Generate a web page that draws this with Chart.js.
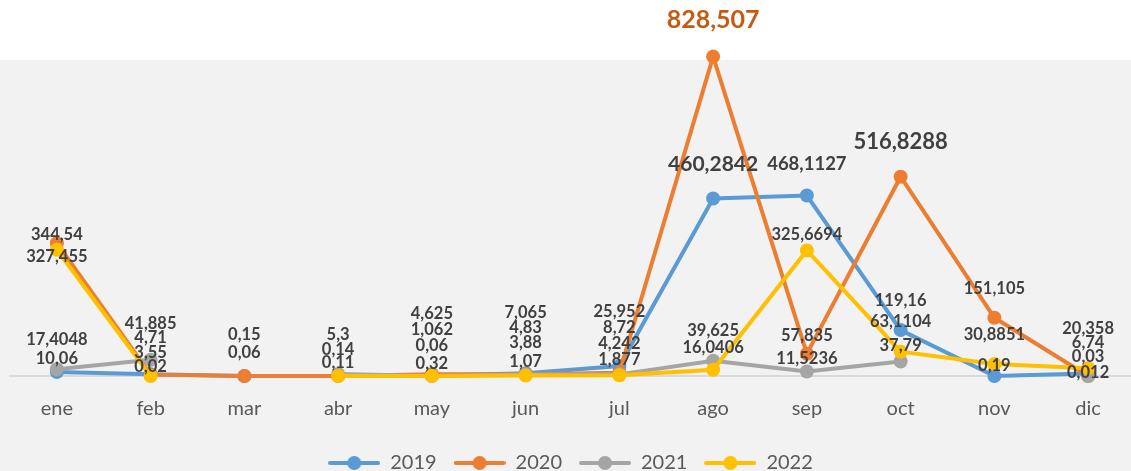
<!DOCTYPE html>
<html>
<head>
<meta charset="utf-8">
<script src="https://cdn.jsdelivr.net/npm/chart.js@4"></script>
<style>
  html, body { margin: 0; padding: 0; background: #fff; overflow: hidden; }
  #clip { width: 1131px; height: 471px; overflow: hidden; position: relative; }
  #wrap { width: 1142px; height: 483px; position: absolute; left: 0; top: 0; }
</style>
</head>
<body>
<div id="clip"><div id="wrap"><canvas id="c"></canvas></div></div>
<script>
const months = ['ene', 'feb', 'mar', 'abr', 'may', 'jun', 'jul', 'ago', 'sep', 'oct', 'nov', 'dic'];

const v2019 = [10.06, 4.71, 0.06, null, 1.062, 7.065, 25.952, 460.2842, 468.1127, 119.16, 0.19, 6.74];
const v2020 = [344.54, 3.55, 0.15, 0.14, 4.625, 4.83, 8.72, 828.507, 57.835, 516.8288, 151.105, 0.03];
const v2021 = [17.4048, 41.885, null, 5.3, 0.06, 3.88, 4.242, 39.625, 11.5236, 37.79, null, 0.012];
const v2022 = [327.455, 0.02, null, 0.11, 0.32, 1.07, 1.877, 16.0406, 325.6694, 63.1104, 30.8851, 20.358];

// label shift above each point (px), as placed in the original
const dy2019 = [-12, -36, -22, 0, -45, -60, -53, -33, -30, -28.5, -9.4, -29.4];
const dy2020 = [-7, -21, -40, -25.5, -60, -45.6, -43.6, -36, -17, -34, -28, -18.5];
const dy2021 = [-29, -35, 0, -38, -29, -30.5, -29.4, -29, -12, -15, 0, -2.5];
const dy2022 = [8, -8, 0, -12, -11, -12.6, -14.3, -21, -15, -28.6, -28.6, -38];

// a few labels are bigger
const bigLabels = {
  '0-7': { size: 21 }, '0-8': { size: 18.5 },
  '1-7': { size: 25, color: '#c55a11' }, '1-9': { size: 22 }
};

const FONT = 'Lato';

function legendIcon(color) {
  const c = document.createElement('canvas');
  c.width = 52; c.height = 16;
  const g = c.getContext('2d');
  g.strokeStyle = color; g.lineWidth = 4; g.lineCap = 'round';
  g.beginPath(); g.moveTo(2, 8); g.lineTo(50, 8); g.stroke();
  g.fillStyle = color;
  g.beginPath(); g.arc(26, 8, 7, 0, Math.PI * 2); g.fill();
  return c;
}

function serie(label, data, color, order) {
  return {
    label, data, order,
    borderColor: color, backgroundColor: color,
    pointBackgroundColor: color, pointBorderColor: color,
    borderWidth: 4, pointRadius: 7, pointBorderWidth: 0,
    tension: 0, spanGaps: false, clip: false
  };
}

const labelDy = [dy2019, dy2020, dy2021, dy2022];

const bgPlugin = {
  id: 'bg',
  afterLayout(chart) {
    // canvas is a bit wider than the page; keep legend centred on the page
    chart.legend.left -= 5.5;
    chart.legend.right -= 5.5;
  },
  beforeDraw(chart) {
    const ctx = chart.ctx;
    ctx.save();
    ctx.fillStyle = '#f2f2f2';
    ctx.fillRect(0, 60, chart.width, chart.height - 60);
    ctx.restore();
  }
};

const labelPlugin = {
  id: 'valueLabels',
  afterDatasetsDraw(chart) {
    const ctx = chart.ctx;
    ctx.save();
    ctx.textAlign = 'center';
    ctx.textBaseline = 'middle';
    chart.data.datasets.forEach((ds, di) => {
      const meta = chart.getDatasetMeta(di);
      ds.data.forEach((v, i) => {
        if (v === null) return;
        const pt = meta.data[i];
        const o = bigLabels[di + '-' + i] || {};
        ctx.font = 'bold ' + (o.size || 16.5) + 'px ' + FONT;
        ctx.fillStyle = o.color || '#404040';
        ctx.fillText(String(v).replace('.', ','), pt.x, pt.y + labelDy[di][i] - 1);
      });
    });
    ctx.restore();
  }
};

new Chart(document.getElementById('c'), {
  type: 'line',
  data: {
    labels: months,
    datasets: [
      serie('2019', v2019, '#5b9bd5', 4),
      serie('2020', v2020, '#ed7d31', 3),
      serie('2021', v2021, '#a5a5a5', 2),
      serie('2022', v2022, '#ffc000', 1)
    ]
  },
  options: {
    responsive: true,
    maintainAspectRatio: false,
    animation: false,
    layout: { padding: { top: 56, left: 10, right: 0, bottom: 0 } },
    scales: {
      x: {
        offset: true,
        grid: { display: false },
        border: { color: '#d9d9d9', width: 2 },
        ticks: { color: '#595959', font: { family: FONT, size: 20 }, padding: 13 },
        afterFit(axis) { axis.height = 60; }
      },
      y: { display: false, min: 0, max: 830 }
    },
    plugins: {
      tooltip: { enabled: false },
      legend: {
        position: 'bottom',
        labels: {
          usePointStyle: true,
          pointStyleWidth: 52,
          padding: 17,
          color: '#595959',
          font: { family: FONT, size: 20 },
          generateLabels(chart) {
            return chart.data.datasets.map((ds, i) => ({
              text: ds.label,
              datasetIndex: i,
              pointStyle: legendIcon(ds.borderColor),
              fillStyle: ds.borderColor,
              strokeStyle: ds.borderColor,
              lineWidth: 0,
              fontColor: '#595959',
              hidden: false
            }));
          }
        }
      }
    }
  },
  plugins: [bgPlugin, labelPlugin]
});
</script>
</body>
</html>
